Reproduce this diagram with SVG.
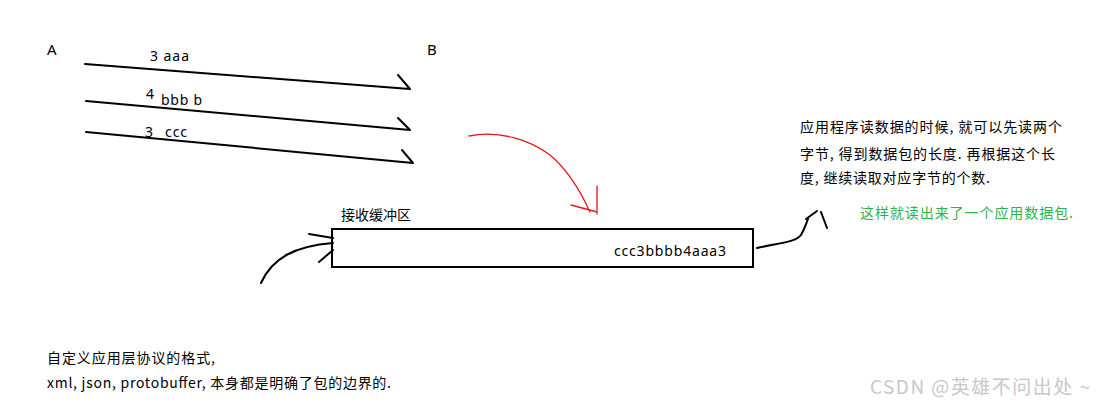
<svg xmlns="http://www.w3.org/2000/svg" width="1097" height="406" viewBox="0 0 1097 406">
<style>
text{font-family:"Noto Sans","Noto Sans CJK SC",sans-serif;font-size:14px;fill:#000}
.cjk{font-family:"Noto Sans CJK SC",sans-serif}
.ln{fill:none;stroke:#000;stroke-width:2;stroke-linecap:round;stroke-linejoin:round}
.red{fill:none;stroke:#e8141b;stroke-width:1.3;stroke-linecap:round}
</style>
<rect width="1097" height="406" fill="#fff"/>
<g id="nodeA"><text x="47" y="55" style="font-size:15px">A</text></g>
<g id="nodeB"><text x="427" y="55" style="font-size:15px">B</text></g>
<g id="connectors">
  <path class="ln" d="M85,64 L410,89 M398,75 L410,89"/>
  <path class="ln" d="M86,101 L410,130 M398,118 L410,130"/>
  <path class="ln" d="M86,132 L413,163 M402,150 L413,163"/>
  <path class="red" d="M469,136 C500,130 530,140 550,155 C568,170 580,190 590,212 M597,186 L597,214 M571,205 L597,212"/>
  <path class="ln" d="M261,283 C272,258 295,246 333,243 M309,234 L333,238 M319,262 L333,250" stroke-width="1.6"/>
  <path class="ln" d="M757,248 C780,243 796,242 801,235 C805,228 806,224 808,219 M806,219 L817,211 M821,212 L827,228" stroke-width="1.6"/>
</g>
<g id="labels">
  <text x="150" y="61" textLength="39">3  aaa</text>
  <text x="146" y="99">4</text>
  <text x="161" y="105" textLength="41">bbb b</text>
  <text x="145" y="137">3</text>
  <text x="165" y="137" textLength="22">ccc</text>
</g>
<g id="buffer">
  <text class="cjk" x="341" y="220">接收缓冲区</text>
  <rect x="332" y="229" width="421" height="38" fill="none" stroke="#000" stroke-width="2"/>
  <text x="614" y="256" textLength="112">ccc3bbbb4aaa3</text>
</g>
<g id="note">
  <text class="cjk" x="800" y="132" textLength="262">应用程序读数据的时候, 就可以先读两个</text>
  <text class="cjk" x="800" y="159" textLength="255">字节, 得到数据包的长度. 再根据这个长</text>
  <text class="cjk" x="800" y="183" textLength="190">度, 继续读取对应字节的个数.</text>
  <text class="cjk" x="860" y="218" textLength="213" style="fill:#2db34a">这样就读出来了一个应用数据包.</text>
</g>
<g id="footer">
  <text class="cjk" x="47" y="363" textLength="168">自定义应用层协议的格式,</text>
  <text class="cjk" x="47" y="388" textLength="344">xml, json, protobuffer, 本身都是明确了包的边界的.</text>
</g>
<text class="cjk" x="870" y="394" textLength="220" style="fill:#c8c8c8;font-size:19px">CSDN @英雄不问出处 ~</text>
</svg>
